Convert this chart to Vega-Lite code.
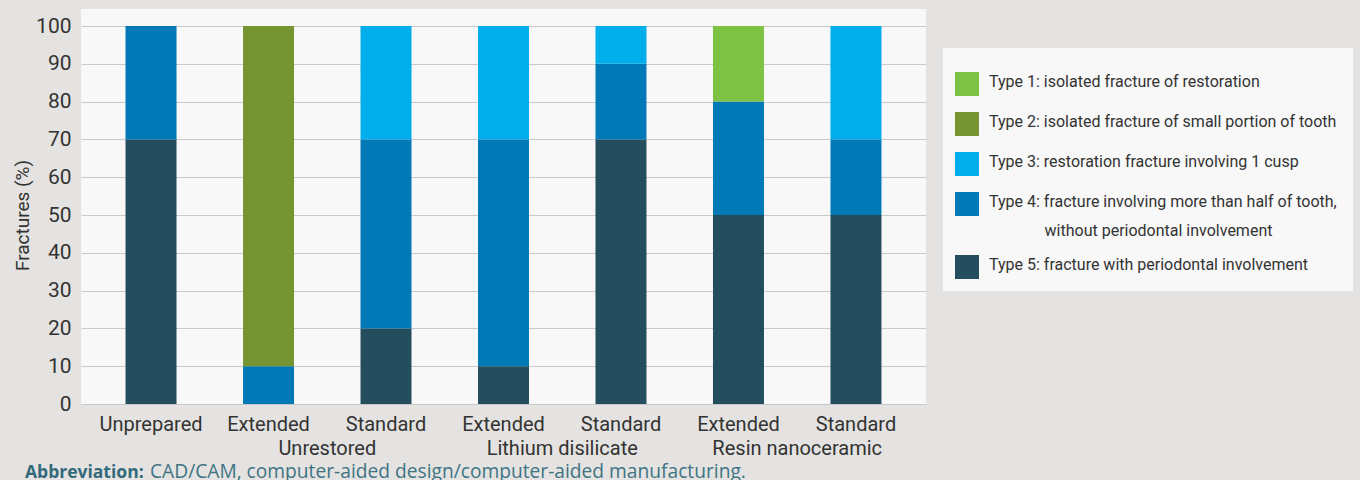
{
  "$schema": "https://vega.github.io/schema/vega-lite/v6.json",
  "width": 845,
  "height": 395,
  "autosize": {"type": "none"},
  "padding": {"left": 81, "top": 9, "right": 434, "bottom": 76},
  "background": "#e4e3e1",
  "config": {
    "view": {"fill": "#f8f8f8", "stroke": null},
    "font": "Roboto"
  },
  "datasets": {
    "bars": [
      {"bar": "Unprepared", "type": "Type 5: fracture with periodontal involvement", "value": 70},
      {"bar": "Unprepared", "type": "Type 4: fracture involving more than half of tooth,|without periodontal involvement", "value": 30},
      {"bar": "Unrestored|Extended", "type": "Type 4: fracture involving more than half of tooth,|without periodontal involvement", "value": 10},
      {"bar": "Unrestored|Extended", "type": "Type 2: isolated fracture of small portion of tooth", "value": 90},
      {"bar": "Unrestored|Standard", "type": "Type 5: fracture with periodontal involvement", "value": 20},
      {"bar": "Unrestored|Standard", "type": "Type 4: fracture involving more than half of tooth,|without periodontal involvement", "value": 50},
      {"bar": "Unrestored|Standard", "type": "Type 3: restoration fracture involving 1 cusp", "value": 30},
      {"bar": "Lithium disilicate|Extended", "type": "Type 5: fracture with periodontal involvement", "value": 10},
      {"bar": "Lithium disilicate|Extended", "type": "Type 4: fracture involving more than half of tooth,|without periodontal involvement", "value": 60},
      {"bar": "Lithium disilicate|Extended", "type": "Type 3: restoration fracture involving 1 cusp", "value": 30},
      {"bar": "Lithium disilicate|Standard", "type": "Type 5: fracture with periodontal involvement", "value": 70},
      {"bar": "Lithium disilicate|Standard", "type": "Type 4: fracture involving more than half of tooth,|without periodontal involvement", "value": 20},
      {"bar": "Lithium disilicate|Standard", "type": "Type 3: restoration fracture involving 1 cusp", "value": 10},
      {"bar": "Resin nanoceramic|Extended", "type": "Type 5: fracture with periodontal involvement", "value": 50},
      {"bar": "Resin nanoceramic|Extended", "type": "Type 4: fracture involving more than half of tooth,|without periodontal involvement", "value": 30},
      {"bar": "Resin nanoceramic|Extended", "type": "Type 1: isolated fracture of restoration", "value": 20},
      {"bar": "Resin nanoceramic|Standard", "type": "Type 5: fracture with periodontal involvement", "value": 50},
      {"bar": "Resin nanoceramic|Standard", "type": "Type 4: fracture involving more than half of tooth,|without periodontal involvement", "value": 20},
      {"bar": "Resin nanoceramic|Standard", "type": "Type 3: restoration fracture involving 1 cusp", "value": 30}
    ],
    "groups": [
      {"bar": "Unrestored|Extended", "group": "Unrestored"},
      {"bar": "Lithium disilicate|Extended", "group": "Lithium disilicate"},
      {"bar": "Resin nanoceramic|Extended", "group": "Resin nanoceramic"}
    ]
  },
  "layer": [
    {
      "data": {"name": "bars"},
      "mark": {"type": "bar"},
      "encoding": {
        "x": {
          "field": "bar",
          "type": "nominal",
          "title": null,
          "sort": null,
          "scale": {
            "domain": ["Unprepared", "Unrestored|Extended", "Unrestored|Standard", "Lithium disilicate|Extended", "Lithium disilicate|Standard", "Resin nanoceramic|Extended", "Resin nanoceramic|Standard"],
            "paddingInner": 0.566,
            "paddingOuter": 0.379
          },
          "axis": {
            "labelExpr": "indexof(datum.label, '|') >= 0 ? split(datum.label, '|')[1] : datum.label",
            "labelAngle": 0,
            "labelFontSize": 20,
            "labelColor": "#333333",
            "labelPadding": 10,
            "ticks": false,
            "tickSize": 0,
            "domain": false,
            "grid": false
          }
        },
        "y": {
          "field": "value",
          "type": "quantitative",
          "stack": "zero",
          "scale": {"domain": [0, 104.5], "nice": false},
          "axis": {
            "values": [0, 10, 20, 30, 40, 50, 60, 70, 80, 90, 100],
            "title": "Fractures (%)",
            "titleFontSize": 19,
            "titleFontWeight": "normal",
            "titleColor": "#333333",
            "titleX": -59,
            "titleY": 206,
            "titleAlign": "center",
            "titleBaseline": "middle",
            "labelFontSize": 21,
            "labelColor": "#333333",
            "labelPadding": 10,
            "ticks": false,
            "tickSize": 0,
            "domain": false,
            "gridColor": "#c9c9c9",
            "gridWidth": 1
          }
        },
        "color": {
          "field": "type",
          "type": "nominal",
          "scale": {
            "domain": [
              "Type 1: isolated fracture of restoration",
              "Type 2: isolated fracture of small portion of tooth",
              "Type 3: restoration fracture involving 1 cusp",
              "Type 4: fracture involving more than half of tooth,|without periodontal involvement",
              "Type 5: fracture with periodontal involvement"
            ],
            "range": ["#7dc242", "#779433", "#00aeeb", "#0079b6", "#244e5e"]
          },
          "legend": {
            "orient": "none",
            "legendX": 862,
            "legendY": 39,
            "title": "\u00a0",
            "titleFontSize": 12,
            "titlePadding": 0,
            "fillColor": "#f8f8f8",
            "padding": 12,
            "symbolType": "square",
            "symbolSize": 576,
            "symbolStrokeWidth": 0,
            "symbolOpacity": 1,
            "labelFontSize": 16,
            "labelColor": "#333333",
            "labelOffset": 10,
            "labelLimit": 600,
            "labelBaseline": "alphabetic",
            "rowPadding": 16,
            "labelExpr": "indexof(datum.label, '|') >= 0 ? [split(datum.label, '|')[0] + '\\u00a0\\u200b', '\\u200b\\u00a0\\u00a0\\u00a0\\u00a0\\u00a0\\u00a0\\u00a0\\u00a0\\u00a0\\u00a0\\u00a0\\u00a0\\u00a0\\u00a0' + split(datum.label, '|')[1]] : datum.label",
            "encode": {
              "labels": {"update": {"dy": {"value": 3}, "lineHeight": {"value": 29}}}
            }
          }
        },
        "order": {"field": "type", "sort": "descending"}
      }
    },
    {
      "data": {"name": "groups"},
      "mark": {"type": "text", "dx": 58.75, "baseline": "alphabetic", "align": "center", "fontSize": 20, "color": "#333333"},
      "encoding": {
        "x": {"field": "bar", "type": "nominal"},
        "y": {"value": 446},
        "text": {"field": "group"}
      }
    },
    {
      "data": {"values": [{"note": "Abbreviation:"}]},
      "mark": {"type": "text", "align": "left", "baseline": "alphabetic", "font": "Open Sans", "fontWeight": "bold", "fontSize": 17.5, "color": "#336a7b"},
      "encoding": {
        "x": {"value": -56},
        "y": {"value": 469},
        "text": {"field": "note"}
      }
    },
    {
      "data": {"values": [{"note": "CAD/CAM, computer-aided design/computer-aided manufacturing."}]},
      "mark": {"type": "text", "align": "left", "baseline": "alphabetic", "font": "Open Sans", "fontSize": 19.2, "color": "#3f7484"},
      "encoding": {
        "x": {"value": 69},
        "y": {"value": 469},
        "text": {"field": "note"}
      }
    }
  ]
}
